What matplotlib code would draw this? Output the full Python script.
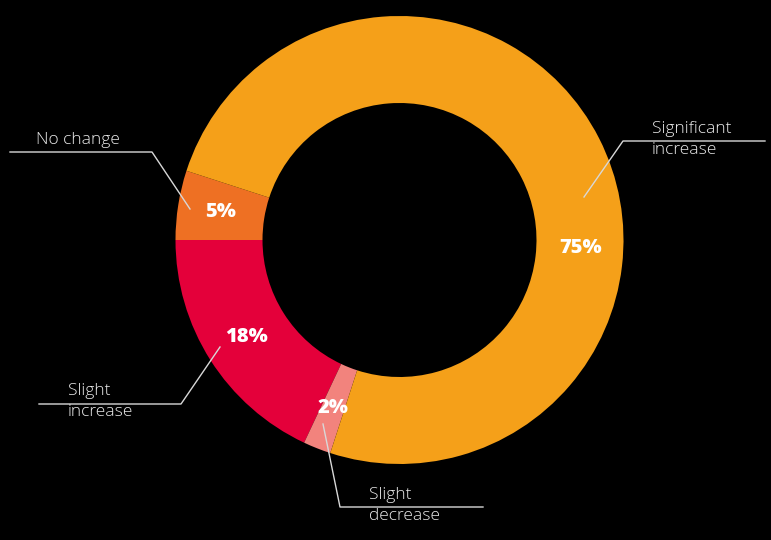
import numpy as np
import matplotlib.pyplot as plt

# survey shares, drawn counterclockwise starting at 162 degrees
categories = ['No change', 'Slight increase', 'Slight decrease', 'Significant increase']
shares = [5, 18, 2, 75]
colors = ['#EE7023', '#E4003A', '#F2837D', '#F5A019']
label_lines = [['No change'], ['Slight', 'increase'], ['Slight', 'decrease'], ['Significant', 'increase']]

W, H = 771, 540
fig = plt.figure(figsize=(W / 100, H / 100), dpi=100, facecolor='black')
ax = fig.add_axes([0, 0, 1, 1])

cx, cy, R = 399.5, 300, 224
wedges, _ = ax.pie(shares, colors=colors, startangle=162, counterclock=True,
                   radius=R, center=(cx, cy), frame=True,
                   wedgeprops=dict(width=87, edgecolor='none'))
ax.set_xlim(0, W)
ax.set_ylim(0, H)
ax.set_aspect('equal')
ax.axis('off')

# percent labels inside the ring
label_r = 181
for i, w in enumerate(wedges):
    mid = np.deg2rad((w.theta1 + w.theta2) / 2)
    if categories[i] == 'Significant increase':
        mid = np.deg2rad(-2.5)
    ax.text(cx + label_r * np.cos(mid), cy + label_r * np.sin(mid), f'{shares[i]}%',
            color='white', fontsize=14.5, fontweight='heavy', family='Open Sans',
            ha='center', va='center')

# leader lines (in pixel coordinates, y from top)
line_col = '#D8D8D8'
leaders = {
    'No change': [(10, 152), (152, 152), (190, 209)],
    'Slight increase': [(39, 404), (181, 404), (220, 347)],
    'Slight decrease': [(323, 424), (340, 507), (483, 507)],
    'Significant increase': [(584, 197), (623, 141), (765, 141)],
}
text_pos = {
    'No change': (36, 140),
    'Slight increase': (68, 391),
    'Slight decrease': (369, 495),
    'Significant increase': (652, 129),
}
for i, name in enumerate(categories):
    pts = np.array(leaders[name], dtype=float)
    ax.plot(pts[:, 0], H - pts[:, 1], color=line_col, lw=1)
    tx, ty = text_pos[name]
    for k, line in enumerate(label_lines[i]):
        ax.text(tx, H - (ty + 21 * k), line, color='#EAEAEA', fontsize=12.5,
                family='Open Sans', fontweight='light', ha='left', va='center')

plt.savefig('out.png', dpi=100, facecolor='black')
